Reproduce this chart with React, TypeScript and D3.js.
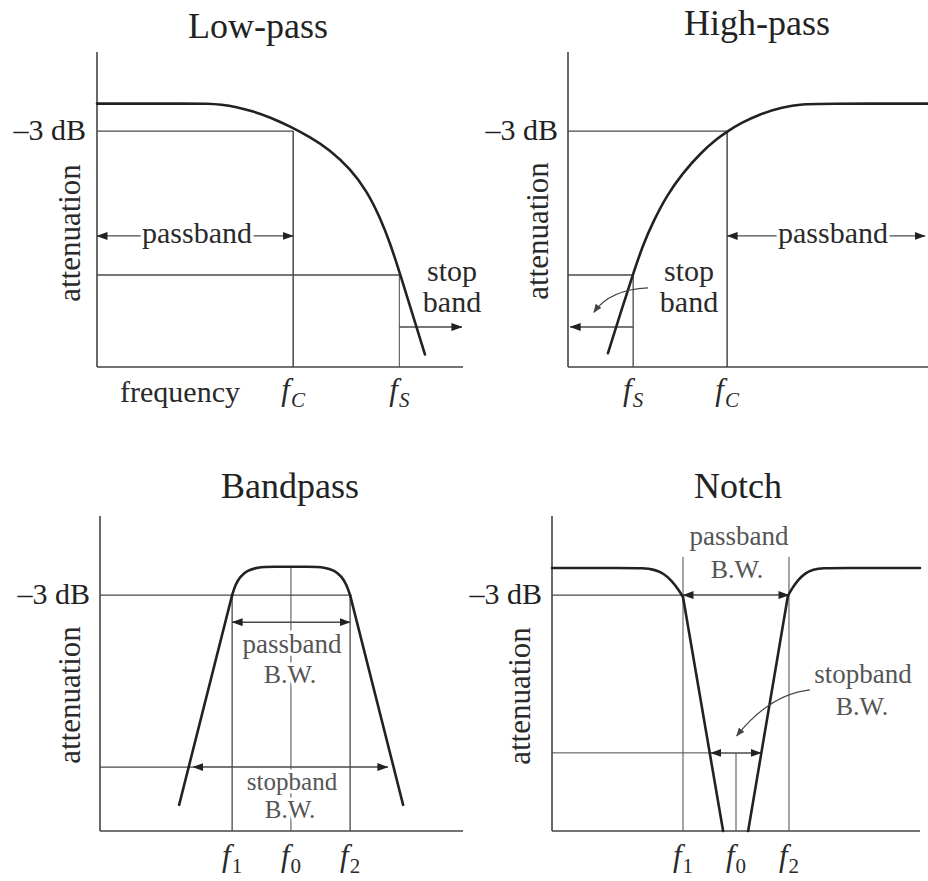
import React from "react";
import * as d3 from "d3";

type Pt = [number, number];

// ---------- DATA (frequency 0..100 along axis, level 0..100 up the axis) ----------
const titles = ["Low-pass", "High-pass", "Bandpass", "Notch"];
const yLabel = "attenuation";
const dbLabel = "–3 dB";

// Low-pass
const lowPassCurve: Pt[] = [[0, 83.6], [26, 83.6], [30, 83.6], [34, 83.3], [38, 82.6], [42.6, 81.2], [47.5, 79.2], [52.7, 76.4], [58.2, 73.0], [63.7, 68.9], [69.1, 63.0], [73.8, 55.8], [77.3, 47.5], [80.1, 39.3], [82.8, 29.6], [86.2, 16.8], [89.6, 4.0]];
const lowPassFreqs = [53.6, 82.6]; // fC, fS
const lowPassLevels = [74.9, 41.6, 29.2, 12.7]; // -3dB, passband arrow, stop level, stop arrow

// High-pass
const highPassCurve: Pt[] = [[11.1, 4.4], [14.5, 16.8], [17.8, 28.6], [20.8, 38.7], [23.6, 46.0], [27.5, 54.6], [31.9, 61.6], [36.7, 67.8], [41.4, 72.5], [44.4, 74.9], [47.8, 77.3], [53.3, 80.3], [59.5, 82.5], [65.3, 83.5], [70, 83.6], [100, 83.6]];
const highPassFreqs = [18.1, 44.2]; // fS, fC
const highPassLevels = [74.9, 41.6, 29.2, 12.7];

// Bandpass
const bandPassLeftSkirt: Pt[] = [[21.8, 8.3], [36.4, 74.9]];
const bandPassTop: Pt[] = [[36.4, 74.9], [37.3, 78.2], [38.6, 80.8], [40.6, 82.7], [43.4, 83.7], [47, 83.9], [58.2, 83.9], [61.8, 83.7], [64.6, 82.7], [66.6, 80.8], [67.9, 78.2], [68.9, 74.9]];
const bandPassRightSkirt: Pt[] = [[68.9, 74.9], [83.5, 8.3]];
const bandPassFreqs = [36.4, 52.6, 68.9]; // f1, f0, f2
const bandPassLevels = [74.9, 66.3, 20.3, 83.8]; // -3dB, passband arrow, stopband arrow, top
const bandPassStopSpan = [25.6, 79.3];

// Notch
const notchLeftKnee: Pt[] = [[0, 83.5], [20, 83.5], [24.7, 83.5], [27.8, 83.0], [30.2, 81.9], [32.6, 79.4], [34.4, 76.6], [35.6, 74.3]];
const notchLeftSkirt: Pt[] = [[35.6, 74.3], [46.5, 0]];
const notchRightSkirt: Pt[] = [[53.3, 0], [64.1, 74.6]];
const notchRightKnee: Pt[] = [[64.1, 74.6], [65.2, 77.0], [66.8, 79.6], [68.8, 81.9], [71, 83.0], [73.6, 83.5], [78, 83.5], [100, 83.5]];
const notchFreqs = [35.6, 50, 64.4]; // f1, f0, f2
const notchLevels = [74.9, 24.8, 87]; // -3dB, stopband arrow, top of marker lines
const notchStopSpan = [43.2, 56.8];

// ---------- LAYOUT ----------
const W = 928, H = 881;
const serif = "'Liberation Serif', 'Times New Roman', serif";
const INK = "#222";
const THIN = "#4a4a4a";

function makeScales(x0: number, x1: number, y0: number, y1: number) {
  const x = d3.scaleLinear().domain([0, 100]).range([x0, x1]);
  const y = d3.scaleLinear().domain([0, 100]).range([y0, y1]);
  return { x, y };
}

const LP = makeScales(97, 463, 367, 52);
const HP = makeScales(568, 928, 367, 52);
const BP = makeScales(100, 463, 831, 516);
const NT = makeScales(552, 920, 831, 516);

const halo = { stroke: "#fff", strokeWidth: 7, paintOrder: "stroke" as const, strokeLinejoin: "round" as const };

function smoothPath(s: any, pts: Pt[]) {
  return d3.line<Pt>().x(d => s.x(d[0])).y(d => s.y(d[1])).curve(d3.curveBasis)(pts) || "";
}
function straightPath(s: any, pts: Pt[]) {
  return d3.line<Pt>().x(d => s.x(d[0])).y(d => s.y(d[1]))(pts) || "";
}

function Response({ d }: { d: string }) {
  return <path d={d} fill="none" stroke={INK} strokeWidth={2.6} strokeLinecap="round" strokeLinejoin="round" />;
}

function Axes({ s }: { s: any }) {
  return (
    <g stroke="#444" strokeWidth={1.6} fill="none">
      <line x1={s.x(0)} y1={s.y(0)} x2={s.x(0)} y2={s.y(100)} />
      <line x1={s.x(0)} y1={s.y(0)} x2={s.x(100)} y2={s.y(0)} />
    </g>
  );
}

function HLine({ s, y, a, b, w = 1.3, start = false, end = false }: any) {
  return <line x1={s.x(a)} x2={s.x(b)} y1={s.y(y)} y2={s.y(y)} stroke={THIN} strokeWidth={w}
    markerStart={start ? "url(#ah)" : undefined} markerEnd={end ? "url(#ah)" : undefined} />;
}
function VLine({ s, x, a, b, w = 1.3 }: any) {
  return <line x1={s.x(x)} x2={s.x(x)} y1={s.y(a)} y2={s.y(b)} stroke={THIN} strokeWidth={w} />;
}

function Title({ x, y, t }: any) {
  return <text x={x} y={y} textAnchor="middle" fontSize={36} fill="#222">{t}</text>;
}
function YLab({ x, y }: any) {
  return <text transform={`translate(${x},${y}) rotate(-90)`} textAnchor="middle" fontSize={31} fill="#2a2a2a">{yLabel}</text>;
}
function DbLab({ x, y }: any) {
  return <text x={x} y={y} textAnchor="end" fontSize={30} fill="#222">{dbLabel}</text>;
}
function FLab({ x, y, sub, italicSub = true }: any) {
  return (
    <text x={x} y={y} textAnchor="middle" fontSize={31} fill="#2a2a2a">
      <tspan fontStyle="italic">f</tspan>
      <tspan fontSize={21} dy={7} dx={1} fontStyle={italicSub ? "italic" : "normal"}>{sub}</tspan>
    </text>
  );
}

export default function App() {
  const [lpFc, lpFs] = lowPassFreqs;
  const [hpFs, hpFc] = highPassFreqs;
  const [bpF1, bpF0, bpF2] = bandPassFreqs;
  const [ntF1, ntF0, ntF2] = notchFreqs;

  // leader arrows
  const hpLeader = d3.path();
  hpLeader.moveTo(HP.x(22.2), HP.y(25.1));
  hpLeader.quadraticCurveTo(HP.x(11.7), HP.y(24.6), HP.x(7.2), HP.y(17.4));
  const ntLeader = d3.path();
  ntLeader.moveTo(NT.x(70.1), NT.y(44.8));
  ntLeader.quadraticCurveTo(NT.x(59.2), NT.y(43.4), NT.x(50.2), NT.y(30.2));

  return (
    <svg width={W} height={H} viewBox={`0 0 ${W} ${H}`} style={{ position: "absolute", left: 0, top: 0, background: "#fff" }} fontFamily={serif}>
      <defs>
        <marker id="ah" viewBox="0 0 11 8" refX={10.5} refY={4} markerWidth={11} markerHeight={8} markerUnits="userSpaceOnUse" orient="auto-start-reverse">
          <path d="M0,0L11,4L0,8Z" fill={INK} />
        </marker>
        <marker id="ahs" viewBox="0 0 10 8" refX={9} refY={4} markerWidth={9} markerHeight={7} markerUnits="userSpaceOnUse" orient="auto">
          <path d="M0,0L10,4L0,8Z" fill="#444" />
        </marker>
      </defs>

      {/* ---------------- LOW-PASS ---------------- */}
      <Title x={258} y={38} t={titles[0]} />
      <Axes s={LP} />
      <HLine s={LP} y={lowPassLevels[0]} a={0} b={lpFc} />
      <VLine s={LP} x={lpFc} a={0} b={lowPassLevels[0]} w={1.5} />
      <HLine s={LP} y={lowPassLevels[2]} a={0} b={lpFs} />
      <VLine s={LP} x={lpFs} a={0} b={lowPassLevels[2]} w={1} />
      <HLine s={LP} y={lowPassLevels[1]} a={0} b={lpFc} start end />
      <HLine s={LP} y={lowPassLevels[3]} a={lpFs} b={99.7} end />
      <Response d={smoothPath(LP, lowPassCurve)} />
      <text x={197} y={243} textAnchor="middle" fontSize={30} fill="#2a2a2a" {...halo}>passband</text>
      <text x={452} y={281} textAnchor="middle" fontSize={30} fill="#2a2a2a">stop</text>
      <text x={452} y={312} textAnchor="middle" fontSize={30} fill="#2a2a2a">band</text>
      <DbLab x={86} y={LP.y(lowPassLevels[0]) + 9} />
      <YLab x={80} y={233} />
      <text x={180} y={402} textAnchor="middle" fontSize={30} fill="#2a2a2a">frequency</text>
      <FLab x={LP.x(lpFc)} y={400} sub="C" />
      <FLab x={LP.x(lpFs)} y={400} sub="S" />

      {/* ---------------- HIGH-PASS ---------------- */}
      <Title x={757} y={35} t={titles[1]} />
      <Axes s={HP} />
      <HLine s={HP} y={highPassLevels[0]} a={0} b={hpFc} />
      <VLine s={HP} x={hpFc} a={0} b={highPassLevels[0]} w={1.5} />
      <HLine s={HP} y={highPassLevels[2]} a={0} b={hpFs} />
      <VLine s={HP} x={hpFs} a={0} b={highPassLevels[2]} />
      <HLine s={HP} y={highPassLevels[1]} a={hpFc} b={99.2} start end />
      <HLine s={HP} y={highPassLevels[3]} a={hpFs} b={0.6} end />
      <Response d={smoothPath(HP, highPassCurve)} />
      <path d={hpLeader.toString()} fill="none" stroke="#444" strokeWidth={1.2} markerEnd="url(#ahs)" />
      <text x={833} y={243} textAnchor="middle" fontSize={30} fill="#2a2a2a" {...halo}>passband</text>
      <text x={689} y={281} textAnchor="middle" fontSize={30} fill="#2a2a2a">stop</text>
      <text x={689} y={312} textAnchor="middle" fontSize={30} fill="#2a2a2a">band</text>
      <DbLab x={558} y={HP.y(highPassLevels[0]) + 9} />
      <YLab x={548} y={231} />
      <FLab x={HP.x(hpFs)} y={400} sub="S" />
      <FLab x={HP.x(hpFc)} y={400} sub="C" />

      {/* ---------------- BANDPASS ---------------- */}
      <Title x={290} y={498} t={titles[2]} />
      <Axes s={BP} />
      <HLine s={BP} y={bandPassLevels[0]} a={0} b={bpF2} />
      <VLine s={BP} x={bpF1} a={0} b={bandPassLevels[0]} />
      <VLine s={BP} x={bpF2} a={0} b={bandPassLevels[0]} />
      <VLine s={BP} x={bpF0} a={0} b={bandPassLevels[3]} w={1} />
      <HLine s={BP} y={bandPassLevels[2]} a={0} b={bandPassStopSpan[0]} />
      <HLine s={BP} y={bandPassLevels[2]} a={bandPassStopSpan[0]} b={bandPassStopSpan[1]} start end w={1.5} />
      <HLine s={BP} y={bandPassLevels[1]} a={bpF1} b={bpF2} start end w={1.5} />
      <Response d={straightPath(BP, bandPassLeftSkirt)} />
      <Response d={smoothPath(BP, bandPassTop)} />
      <Response d={straightPath(BP, bandPassRightSkirt)} />
      <text x={292} y={653} textAnchor="middle" fontSize={27} fill="#555" {...halo}>passband</text>
      <text x={290} y={683} textAnchor="middle" fontSize={26} fill="#555" {...halo}>B.W.</text>
      <text x={292} y={790} textAnchor="middle" fontSize={25} fill="#555" {...halo}>stopband</text>
      <text x={290} y={818} textAnchor="middle" fontSize={25} fill="#555" {...halo}>B.W.</text>
      <DbLab x={90} y={BP.y(bandPassLevels[0]) + 9} />
      <YLab x={80} y={695} />
      <FLab x={BP.x(bpF1)} y={866} sub="1" italicSub={false} />
      <FLab x={BP.x(bpF0)} y={866} sub="0" italicSub={false} />
      <FLab x={BP.x(bpF2)} y={866} sub="2" italicSub={false} />

      {/* ---------------- NOTCH ---------------- */}
      <Title x={738} y={498} t={titles[3]} />
      <Axes s={NT} />
      <HLine s={NT} y={notchLevels[0]} a={0} b={ntF1} />
      <VLine s={NT} x={ntF1} a={0} b={notchLevels[2]} w={1} />
      <VLine s={NT} x={ntF2} a={0} b={notchLevels[2]} w={1} />
      <VLine s={NT} x={ntF0} a={0} b={notchLevels[1]} w={1} />
      <HLine s={NT} y={notchLevels[0]} a={ntF1} b={ntF2} start end w={1.5} />
      <HLine s={NT} y={notchLevels[1]} a={0} b={notchStopSpan[0]} w={1} />
      <HLine s={NT} y={notchLevels[1]} a={notchStopSpan[0]} b={notchStopSpan[1]} start end w={1.5} />
      <Response d={smoothPath(NT, notchLeftKnee)} />
      <Response d={straightPath(NT, notchLeftSkirt)} />
      <Response d={straightPath(NT, notchRightSkirt)} />
      <Response d={smoothPath(NT, notchRightKnee)} />
      <path d={ntLeader.toString()} fill="none" stroke="#444" strokeWidth={1.2} markerEnd="url(#ahs)" />
      <text x={739} y={545} textAnchor="middle" fontSize={27} fill="#555" {...halo}>passband</text>
      <text x={737} y={578} textAnchor="middle" fontSize={26} fill="#555" {...halo}>B.W.</text>
      <text x={863} y={683} textAnchor="middle" fontSize={27} fill="#555">stopband</text>
      <text x={862} y={715} textAnchor="middle" fontSize={26} fill="#555">B.W.</text>
      <DbLab x={542} y={NT.y(notchLevels[0]) + 9} />
      <YLab x={530} y={696} />
      <FLab x={NT.x(ntF1)} y={866} sub="1" italicSub={false} />
      <FLab x={NT.x(ntF0)} y={866} sub="0" italicSub={false} />
      <FLab x={NT.x(ntF2)} y={866} sub="2" italicSub={false} />
    </svg>
  );
}
